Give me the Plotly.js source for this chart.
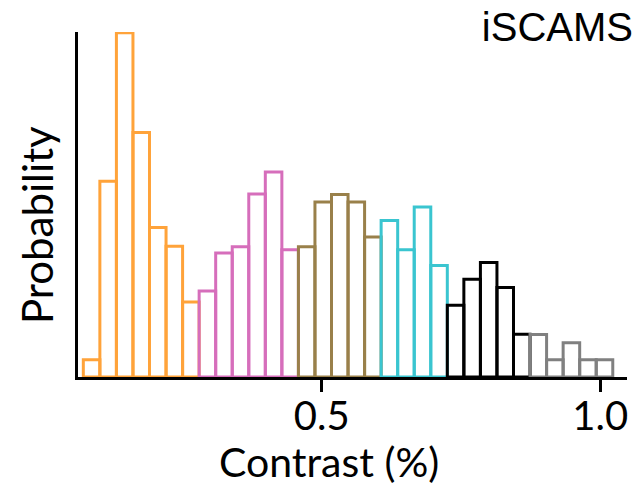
<!DOCTYPE html>
<html>
<head>
<meta charset="utf-8">
<script src="https://cdn.plot.ly/plotly-3.0.1.min.js"></script>
<style>html,body{margin:0;padding:0;background:#fff;}#chart{width:640px;height:488px;}</style>
</head>
<body>
<div id="chart"></div>
<script>
// Bin width (contrast units) and bin centers per colour group
var binWidth = 0.0297;

var orangeX = [0.0869, 0.1166, 0.1463, 0.1760, 0.2057, 0.2354, 0.2651];
var orangeY = [0.0044, 0.0499, 0.0877, 0.0623, 0.0381, 0.0333, 0.0191];

var pinkX = [0.2948, 0.3245, 0.3542, 0.3839, 0.4136, 0.4433];
var pinkY = [0.0219, 0.0316, 0.0332, 0.0466, 0.0522, 0.0324];

var brownX = [0.4730, 0.5027, 0.5324, 0.5621, 0.5918];
var brownY = [0.0332, 0.0446, 0.0465, 0.0446, 0.0357];

var cyanX = [0.6215, 0.6512, 0.6809, 0.7106];
var cyanY = [0.0399, 0.0324, 0.0433, 0.0284];

var blackX = [0.7403, 0.7700, 0.7997, 0.8294, 0.8591];
var blackY = [0.0183, 0.0249, 0.0292, 0.0228, 0.0109];

var grayX = [0.8888, 0.9185, 0.9482, 0.9779, 1.0076];
var grayY = [0.0108, 0.0044, 0.0087, 0.0044, 0.0044];

var tickVals = [0.5, 1.0];
var tickText = ['0.5', '1.0'];

var groups = [
  {x: orangeX, y: orangeY, c: '#FFA33A'},
  {x: pinkX, y: pinkY, c: '#D66EBB'},
  {x: brownX, y: brownY, c: '#99804A'},
  {x: cyanX, y: cyanY, c: '#3AC5D0'},
  {x: blackX, y: blackY, c: '#000000'},
  {x: grayX, y: grayY, c: '#808080'}
];

var traces = groups.map(function(g){
  return {
    type: 'bar',
    x: g.x,
    y: g.y,
    width: g.x.map(function(){ return binWidth; }),
    marker: {color: 'rgba(255,255,255,0)', line: {color: g.c, width: 3}},
    hoverinfo: 'skip'
  };
});

var layout = {
  width: 640, height: 488,
  margin: {l: 78, r: 13, t: 32, b: 111},
  paper_bgcolor: '#fff', plot_bgcolor: '#fff',
  showlegend: false,
  bargap: 0,
  barmode: 'overlay',
  font: {family: 'Lato, sans-serif', color: '#000'},
  title: {text: 'iSCAMS', font: {family: 'Liberation Sans, Arial, sans-serif', size: 40, color: '#000'},
          xref: 'container', yref: 'container', x: 0.989, xanchor: 'right', y: 0.945, yanchor: 'middle'},
  xaxis: {
    range: [0.0625, 1.048],
    showgrid: false, zeroline: false,
    showline: true, linecolor: '#000', linewidth: 3,
    ticks: 'outside', ticklen: 12, tickwidth: 3, tickcolor: '#000',
    ticklabelstandoff: -10,
    tickvals: tickVals, ticktext: tickText,
    tickfont: {family: 'Lato, sans-serif', size: 40, color: '#000'}
  },
  yaxis: {
    range: [0, 0.0879],
    showgrid: false, zeroline: false,
    showline: true, linecolor: '#000', linewidth: 3,
    ticks: '', showticklabels: false
  },
  annotations: [
    {text: 'Contrast (%)', xref: 'paper', yref: 'paper', x: 0.458, y: -0.318,
     xanchor: 'center', yanchor: 'bottom', showarrow: false, borderpad: 0,
     font: {family: 'Lato, sans-serif', size: 41, color: '#000'}},
    {text: 'Probability', xref: 'paper', yref: 'paper', x: -0.075, y: 0.44,
     xanchor: 'center', yanchor: 'middle', showarrow: false, textangle: -90,
     font: {family: 'Lato, sans-serif', size: 42, color: '#000'}}
  ]
};

Plotly.newPlot('chart', traces, layout, {staticPlot: true, displayModeBar: false});
</script>
</body>
</html>
